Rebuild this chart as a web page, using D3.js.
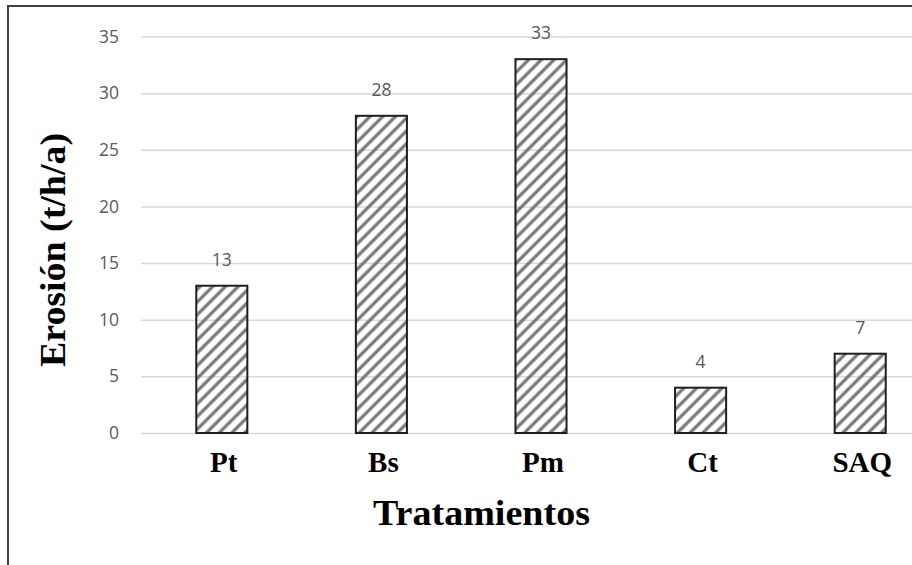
<!DOCTYPE html>
<html>
<head>
<meta charset="utf-8">
<script src="https://cdn.jsdelivr.net/npm/d3@7"></script>
<style>
  body { margin: 0; background: #fff; }
  svg { display: block; }
</style>
</head>
<body>
<div id="chart"></div>
<script>
const categories = ["Pt", "Bs", "Pm", "Ct", "SAQ"];
const values = [13, 28, 33, 4, 7];
const yTicks = [0, 5, 10, 15, 20, 25, 30, 35];

const w = 912;
const h = 565;

const svg = d3.select("#chart")
  .append("svg")
  .attr("width", w)
  .attr("height", h);

// hatch fill for the bars
const defs = svg.append("defs");
defs.append("pattern")
  .attr("id", "hatch")
  .attr("patternUnits", "userSpaceOnUse")
  .attr("width", 9)
  .attr("height", 9)
  .attr("patternTransform", "rotate(45)")
  .append("line")
  .attr("x1", 2)
  .attr("y1", 0)
  .attr("x2", 2)
  .attr("y2", 9)
  .attr("stroke", "#767676")
  .attr("stroke-width", 3.2);

// chart area border (right and bottom fall outside the picture)
svg.append("rect")
  .attr("x", 8)
  .attr("y", 6)
  .attr("width", 1200)
  .attr("height", 1200)
  .attr("fill", "none")
  .attr("stroke", "#3f3f3f")
  .attr("stroke-width", 2);

const xScale = d3.scaleBand()
  .domain(categories)
  .range([142, 940])
  .paddingInner(0.68)
  .paddingOuter(0.34);

const yScale = d3.scaleLinear()
  .domain([0, 35])
  .range([433, 36.5]);

// gridlines + tick labels
const yAxis = d3.axisLeft(yScale)
  .tickValues(yTicks)
  .tickSize(-(940 - 141))
  .tickPadding(22);

const gy = svg.append("g")
  .attr("transform", "translate(141,0)")
  .call(yAxis);
gy.select(".domain").remove();
gy.selectAll(".tick line")
  .attr("stroke", "#d9d9d9")
  .attr("stroke-width", 1.5);
gy.selectAll(".tick text")
  .attr("fill", "#595959")
  .style("font-family", "'Open Sans', sans-serif")
  .style("font-size", "17.5px");

// bars
svg.append("g")
  .selectAll("rect")
  .data(values)
  .enter()
  .append("rect")
  .attr("x", (d, i) => xScale(categories[i]))
  .attr("y", d => yScale(d))
  .attr("width", xScale.bandwidth())
  .attr("height", d => yScale(0) - yScale(d))
  .attr("fill", "url(#hatch)")
  .attr("stroke", "#1f1f1f")
  .attr("stroke-width", 2);

// value labels
svg.append("g")
  .selectAll("text")
  .data(values)
  .enter()
  .append("text")
  .attr("x", (d, i) => xScale(categories[i]) + xScale.bandwidth() / 2)
  .attr("y", d => yScale(d) - 20)
  .attr("text-anchor", "middle")
  .attr("fill", "#595959")
  .style("font-family", "'Open Sans', sans-serif")
  .style("font-size", "17.5px")
  .text(d => d);

// category labels
svg.append("g")
  .selectAll("text")
  .data(categories)
  .enter()
  .append("text")
  .attr("x", d => xScale(d) + xScale.bandwidth() / 2 + 2)
  .attr("y", 472)
  .attr("text-anchor", "middle")
  .attr("fill", "#000")
  .style("font-family", "'Liberation Serif', 'Times New Roman', serif")
  .style("font-weight", "bold")
  .style("font-size", "29px")
  .text(d => d);

// axis titles
svg.append("text")
  .attr("x", 481.5)
  .attr("y", 525)
  .attr("text-anchor", "middle")
  .attr("textLength", 217)
  .attr("lengthAdjust", "spacingAndGlyphs")
  .style("font-family", "'Liberation Serif', 'Times New Roman', serif")
  .style("font-weight", "bold")
  .style("font-size", "35px")
  .text("Tratamientos");

svg.append("text")
  .attr("transform", "translate(65,250) rotate(-90)")
  .attr("text-anchor", "middle")
  .attr("textLength", 234)
  .attr("lengthAdjust", "spacingAndGlyphs")
  .style("font-family", "'Liberation Serif', 'Times New Roman', serif")
  .style("font-weight", "bold")
  .style("font-size", "35px")
  .text("Erosión (t/h/a)");
</script>
</body>
</html>
